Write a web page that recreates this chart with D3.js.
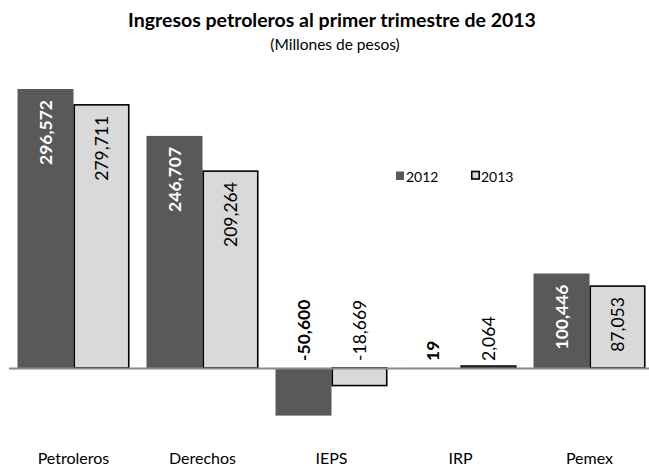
<!DOCTYPE html>
<html>
<head>
<meta charset="utf-8">
<script src="https://cdn.jsdelivr.net/npm/d3@7"></script>
<style>
  html, body { margin: 0; padding: 0; background: #ffffff; }
  svg { display: block; font-family: Lato, "Open Sans", sans-serif; }
</style>
</head>
<body>
<svg id="chart" width="649" height="466"></svg>
<script>
const categories = ["Petroleros", "Derechos", "IEPS", "IRP", "Pemex"];
const seriesNames = ["2012", "2013"];
const values2012 = [296572, 246707, -50600, 19, 100446];
const values2013 = [279711, 209264, -18669, 2064, 87053];
const titleText = "Ingresos petroleros al primer trimestre de 2013";
const subtitleText = "(Millones de pesos)";

const seriesValues = [values2012, values2013];
const fills = ["#595959", "#d9d9d9"];
const strokes = ["none", "#000000"];

const svg = d3.select("#chart");
const fmt = d3.formatLocale({decimal: ".", thousands: ",", grouping: [3], currency: ["$", ""], minus: "-"}).format(",");

const x0 = d3.scaleBand().domain(categories).range([9, 654]).padding(0);
const x1 = d3.scaleBand().domain(seriesNames).range([0, x0.bandwidth()])
  .paddingInner(0).paddingOuter(0.152);
const y = d3.scaleLinear().domain([0, 296572]).range([368, 89]);

// title
svg.append("text").attr("x", 332).attr("y", 27).attr("text-anchor", "middle")
  .attr("font-size", 19.5).attr("font-weight", "bold").attr("fill", "#000")
  .text(titleText);
svg.append("text").attr("x", 335).attr("y", 50).attr("text-anchor", "middle")
  .attr("font-size", 15.5).attr("fill", "#000")
  .text(subtitleText);

// bars
const data = [];
categories.forEach((c, i) => {
  seriesNames.forEach((s, j) => {
    data.push({cat: c, series: s, si: j, value: seriesValues[j][i]});
  });
});

const bars = svg.append("g");
bars.selectAll("rect").data(data).enter().append("rect")
  .attr("x", d => x0(d.cat) + x1(d.series) + (d.si === 1 ? 0.75 : 0))
  .attr("width", d => x1.bandwidth() - (d.si === 1 ? 1.5 : 0))
  .attr("y", d => Math.min(y(d.value), y(0)))
  .attr("height", d => Math.max(Math.abs(y(d.value) - y(0)), 0.5))
  .attr("fill", d => fills[d.si])
  .attr("stroke", d => strokes[d.si])
  .attr("stroke-width", 1.6);

// zero axis line
svg.append("line").attr("x1", 9).attr("x2", 654)
  .attr("y1", y(0) + 0.5).attr("y2", y(0) + 0.5)
  .attr("stroke", "#8a8a8a").attr("stroke-width", 2);

// category labels
svg.append("g").selectAll("text").data(categories).enter().append("text")
  .attr("x", d => x0(d) + x0.bandwidth() / 2)
  .attr("y", 464)
  .attr("text-anchor", "middle")
  .attr("font-size", 16)
  .attr("fill", "#000")
  .text(d => d);

// data labels
const labels = svg.append("g");
data.forEach(d => {
  const cx = x0(d.cat) + x1(d.series) + x1.bandwidth() / 2;
  const t = labels.append("text")
    .attr("font-size", 17.5)
    .attr("font-weight", d.si === 0 ? "bold" : "normal")
    .attr("dominant-baseline", "central")
    .text(fmt(d.value));
  const L = t.node().getComputedTextLength();
  const h = y(0) - y(d.value);
  if (d.value > 0 && h > L + 20) {
    t.attr("text-anchor", "end")
      .attr("fill", d.si === 0 ? "#ffffff" : "#000000")
      .attr("transform", `translate(${cx},${y(d.value) + 11}) rotate(-90)`);
  } else {
    t.attr("text-anchor", "start")
      .attr("fill", "#000000")
      .attr("transform", `translate(${cx},${y(0) - 7}) rotate(-90)`);
  }
});

// legend
const legend = svg.append("g");
const legX = [396, 471];
seriesNames.forEach((s, j) => {
  legend.append("rect")
    .attr("x", legX[j] + (j === 1 ? 0.75 : 0)).attr("y", 171.5)
    .attr("width", j === 1 ? 7.5 : 8).attr("height", j === 1 ? 7.5 : 8.5)
    .attr("fill", fills[j]).attr("stroke", strokes[j]).attr("stroke-width", 1.6);
  legend.append("text").attr("x", legX[j] + 10).attr("y", 181.5)
    .attr("font-size", 14).attr("fill", "#000").text(s);
});
</script>
</body>
</html>
